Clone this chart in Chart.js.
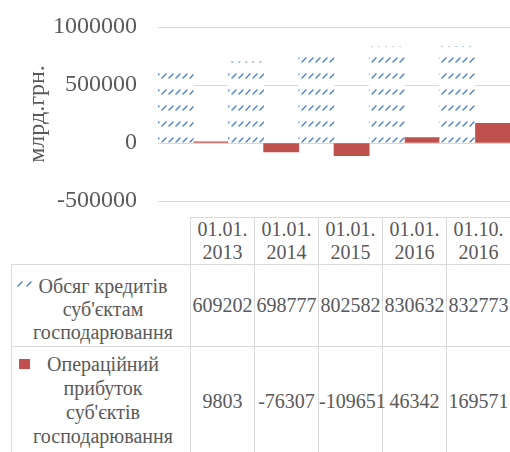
<!DOCTYPE html>
<html>
<head>
<meta charset="utf-8">
<script src="https://cdn.jsdelivr.net/npm/chart.js@4/dist/chart.umd.min.js"></script>
<style>
  html, body { margin: 0; padding: 0; background: #fff; width: 510px; height: 452px; overflow: hidden; }
  #plot { position: absolute; left: 0; top: 0; }
  #grid {
    position: absolute; left: 11px; top: 217px;
    border-collapse: collapse; table-layout: fixed; width: 499px;
    font-family: "Liberation Serif", "Tinos", "Times New Roman", "DejaVu Serif Condensed", "DejaVu Serif", serif;
    font-size: 20px; color: #595959;
  }
  #grid td {
    border: 1px solid #d9d9d9; padding: 0; text-align: center; vertical-align: middle;
    white-space: nowrap; line-height: 23px; overflow: visible;
  }
  #grid td.corner { border: none; }
  #grid td.name { position: relative; padding-left: 4px; }
  #grid tr.r0 td.name { padding-top: 8px; }
  #grid tr.r1 td.name { line-height: 24px; padding-bottom: 4px; }
  .key { position: absolute; display: block; }
</style>
</head>
<body>
<canvas id="plot" width="510" height="215"></canvas>
<table id="grid"></table>
<script>
// Reporting dates (shown as two lines in the table header)
const periods = ['01.01.2013', '01.01.2014', '01.01.2015', '01.01.2016', '01.10.2016'];
// Loans to business entities
const loans = [609202, 698777, 802582, 830632, 832773];
// Operating profit of business entities
const profit = [9803, -76307, -109651, 46342, 169571];
// Series names, split into the lines used in the table
const loanName = ['Обсяг кредитів', "суб'єктам", 'господарювання'];
const profitName = ['Операційний', 'прибуток', "суб'єктів", 'господарювання'];
const axisTitle = 'млрд.грн.';
const yTicks = [-500000, 0, 500000, 1000000];

const FONT = '"Liberation Serif", "Tinos", "Times New Roman", "DejaVu Serif Condensed", "DejaVu Serif", serif';
const BLUE = '#4a7fcf';
const RED = '#c0504d';
const TEXT = '#595959';

// Dashed upward-diagonal hatch on white
function hatch(color) {
  const t = document.createElement('canvas');
  t.width = 7; t.height = 16;
  const c = t.getContext('2d');
  c.fillStyle = '#fff';
  c.fillRect(0, 0, 7, 16);
  c.strokeStyle = color;
  c.lineWidth = 1.4;
  c.lineCap = 'round';
  c.beginPath();
  c.moveTo(1, 14);
  c.lineTo(5, 10);
  c.stroke();
  return c.createPattern(t, 'repeat');
}

new Chart(document.getElementById('plot'), {
  type: 'bar',
  data: {
    labels: periods,
    datasets: [
      { label: loanName.join(' '), data: loans, backgroundColor: hatch(BLUE), borderWidth: 0 },
      { label: profitName.join(' '), data: profit, backgroundColor: RED, borderWidth: 0 }
    ]
  },
  options: {
    responsive: false,
    animation: false,
    devicePixelRatio: 1,
    layout: { padding: { top: 27, bottom: 14, left: 0, right: 0 } },
    plugins: { legend: { display: false }, tooltip: { enabled: false } },
    datasets: { bar: { categoryPercentage: 1, barPercentage: 1 } },
    scales: {
      x: { display: false },
      y: {
        min: -500000,
        max: 1000000,
        afterBuildTicks(s) { s.ticks = yTicks.map(v => ({ value: v })); },
        afterFit(s) {
          s.width = 158;
          s.paddingTop = 0;
          s.paddingBottom = 0;
        },
        ticks: {
          padding: 21,
          color: TEXT,
          font: { family: FONT, size: 24 },
          callback: v => String(v)
        },
        grid: { color: '#d9d9d9', lineWidth: 1, drawTicks: false },
        border: { display: false },
        title: {
          display: true,
          text: axisTitle,
          color: TEXT,
          font: { family: FONT, size: 24 },
          padding: { top: 23, bottom: 0 }
        }
      }
    }
  }
});

// Data table under the plot
const keys = [
  '<svg class="key" style="left:5px;top:16px" width="16" height="6"><g stroke="' + BLUE +
    '" stroke-width="1.4" stroke-linecap="round"><line x1="1" y1="5" x2="5" y2="1"/><line x1="10" y1="5" x2="14" y2="1"/></g></svg>',
  '<span class="key" style="left:7px;top:12px;width:11px;height:10px;background:' + RED + '"></span>'
];
const rows = [loans, profit];
const names = [loanName, profitName];
const rowHeights = [82, 110];

let html = '<colgroup><col style="width:179px">' + periods.map(() => '<col style="width:64px">').join('') + '</colgroup>';
html += '<tr style="height:47px"><td class="corner"></td>' +
  periods.map(p => '<td>' + p.slice(0, 6) + '<br>' + p.slice(6) + '</td>').join('') + '</tr>';
rows.forEach((vals, i) => {
  html += '<tr class="r' + i + '" style="height:' + rowHeights[i] + 'px"><td class="name">' + keys[i] + names[i].join('<br>') + '</td>' +
    vals.map(v => '<td>' + String(v) + '</td>').join('') + '</tr>';
});
document.getElementById('grid').innerHTML = html;
</script>
</body>
</html>
